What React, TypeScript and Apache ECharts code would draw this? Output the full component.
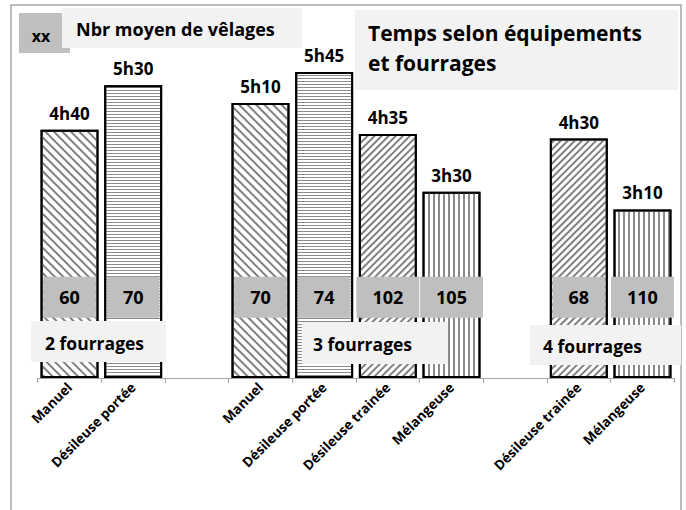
import React, { useEffect, useRef } from "react";
import * as echarts from "echarts";

// ---- data ----
const CATEGORIES = [
  "Manuel",
  "Désileuse portée",
  "",
  "Manuel",
  "Désileuse portée",
  "Désileuse trainée",
  "Mélangeuse",
  "",
  "Désileuse trainée",
  "Mélangeuse",
];
// time in minutes (4h40 = 280)
const MINUTES: (number | null)[] = [280, 330, null, 310, 345, 275, 210, null, 270, 190];
// average number of calvings
const VELAGES: (number | null)[] = [60, 70, null, 70, 74, 102, 105, null, 68, 110];
const PATTERNS: (string | null)[] = [
  "diagDown",
  "horiz",
  null,
  "diagDown",
  "horiz",
  "diagUp",
  "vert",
  null,
  "diagUp",
  "vert",
];
const GROUP_LABELS = ["2 fourrages", "3 fourrages", "4 fourrages"];
const LEGEND_KEY = "xx";
const LEGEND_TEXT = "Nbr moyen de vêlages";
const TITLE = "Temps selon équipements\net fourrages";

const FONT = "Open Sans";
const BOX_ANCHOR = 91; // value level where the calving boxes sit

const fmtTime = (m: number) => {
  const h = Math.floor(m / 60);
  const mm = m % 60;
  return `${h}h${mm < 10 ? "0" + mm : mm}`;
};

const DECALS: Record<string, any> = {
  diagDown: {
    symbol: "rect",
    color: "#808080",
    backgroundColor: "#ffffff",
    dashArrayX: [1, 0],
    dashArrayY: [2, 4],
    rotation: Math.PI / 4,
  },
  diagUp: {
    symbol: "rect",
    color: "#808080",
    backgroundColor: "#ffffff",
    dashArrayX: [1, 0],
    dashArrayY: [2, 3],
    rotation: -Math.PI / 4,
  },
  horiz: {
    symbol: "rect",
    color: "#8a8a8a",
    backgroundColor: "#ffffff",
    dashArrayX: [1, 0],
    dashArrayY: [1, 2],
    rotation: 0,
  },
  vert: {
    symbol: "rect",
    color: "#8a8a8a",
    backgroundColor: "#ffffff",
    dashArrayX: [1, 0],
    dashArrayY: [2, 3],
    rotation: Math.PI / 2,
  },
};

export default function App() {
  const ref = useRef<HTMLDivElement>(null);
  useEffect(() => {
    if (!ref.current) return;
    const chart = echarts.init(ref.current, undefined, { renderer: "svg" });

    const groupBoxes = [
      { x: 31, y: 321, w: 135, h: 41, tx: 45 },
      { x: 302, y: 322, w: 146, h: 42, tx: 313 },
      { x: 530, y: 325, w: 151, h: 40, tx: 543 },
    ];

    const graphic: any[] = [
      {
        type: "rect",
        shape: { x: 11, y: 5, width: 670, height: 530 },
        style: { fill: "none", stroke: "#a6a6a6", lineWidth: 1.5 },
        z: 0,
        silent: true,
      },
      // legend
      {
        type: "rect",
        shape: { x: 19, y: 13, width: 51, height: 40 },
        style: { fill: "#bfbfbf" },
        z: 100,
      },
      {
        type: "rect",
        shape: { x: 62, y: 8, width: 240, height: 40 },
        style: { fill: "#f2f2f2" },
        z: 101,
      },
      {
        type: "text",
        x: 41,
        y: 36,
        style: {
          text: LEGEND_KEY,
          font: `bold 16px "${FONT}"`,
          fill: "#000",
          align: "center",
          verticalAlign: "middle",
        },
        z: 102,
      },
      {
        type: "text",
        x: 76,
        y: 29,
        style: {
          text: LEGEND_TEXT,
          font: `bold 18px "${FONT}"`,
          fill: "#000",
          align: "left",
          verticalAlign: "middle",
        },
        z: 102,
      },
      // title
      {
        type: "rect",
        shape: { x: 355, y: 10, width: 323, height: 80 },
        style: { fill: "#f2f2f2" },
        z: 100,
      },
      {
        type: "text",
        x: 368,
        y: 18,
        style: {
          text: TITLE,
          font: `bold 21px "${FONT}"`,
          lineHeight: 30,
          fill: "#000",
          align: "left",
          verticalAlign: "top",
        },
        z: 102,
      },
    ];

    groupBoxes.forEach((b, i) => {
      graphic.push({
        type: "rect",
        shape: { x: b.x, y: b.y, width: b.w, height: b.h },
        style: { fill: "#f2f2f2" },
        z: 100,
      });
      graphic.push({
        type: "text",
        x: b.tx,
        y: b.y + b.h / 2 + 1,
        style: {
          text: GROUP_LABELS[i],
          font: `bold 17.5px "${FONT}"`,
          fill: "#000",
          align: "left",
          verticalAlign: "middle",
        },
        z: 102,
      });
    });

    chart.setOption({
      animation: false,
      backgroundColor: "#ffffff",
      textStyle: { fontFamily: FONT },
      grid: { left: 37.7, right: 11.7, top: 23.2, bottom: 132 },
      xAxis: {
        type: "category",
        data: CATEGORIES,
        axisLine: { lineStyle: { color: "#a6a6a6", width: 1 } },
        axisTick: { show: true, length: 5, lineStyle: { color: "#a6a6a6" } },
        axisLabel: {
          rotate: 45,
          interval: 0,
          margin: 7,
          fontFamily: FONT,
          fontWeight: "bold",
          fontSize: 13.5,
          color: "#000",
        },
      },
      yAxis: {
        type: "value",
        min: 0,
        max: 400,
        show: false,
        splitLine: { show: false },
      },
      series: [
        {
          type: "bar",
          barWidth: "91%",
          z: 2,
          itemStyle: { color: "#ffffff", borderColor: "#000", borderWidth: 2 },
          label: {
            show: true,
            position: "top",
            distance: 8,
            formatter: (p: any) => fmtTime(p.value),
            fontFamily: FONT,
            fontWeight: "bold",
            fontSize: 17,
            color: "#000",
          },
          data: MINUTES.map((v, i) =>
            v == null
              ? "-"
              : {
                  value: v,
                  itemStyle: { decal: DECALS[PATTERNS[i] as string] },
                }
          ),
        },
        {
          type: "scatter",
          symbolSize: 1,
          itemStyle: { color: "transparent", opacity: 1 },
          z: 5,
          label: {
            show: true,
            position: "inside",
            opacity: 1,
            formatter: (p: any) => String(p.value[2]),
            backgroundColor: "#bfbfbf",
            padding: [10, 16],
            lineHeight: 21,
            fontFamily: FONT,
            fontWeight: "bold",
            fontSize: 18,
            color: "#000",
          },
          data: VELAGES.map((v, i) => (v == null ? null : [i, BOX_ANCHOR, v])).filter(
            (d) => d != null
          ),
        },
      ],
      graphic,
    });

    return () => chart.dispose();
  }, []);

  return (
    <div
      ref={ref}
      style={{ position: "fixed", left: 0, top: 0, width: 686, height: 510 }}
    />
  );
}
